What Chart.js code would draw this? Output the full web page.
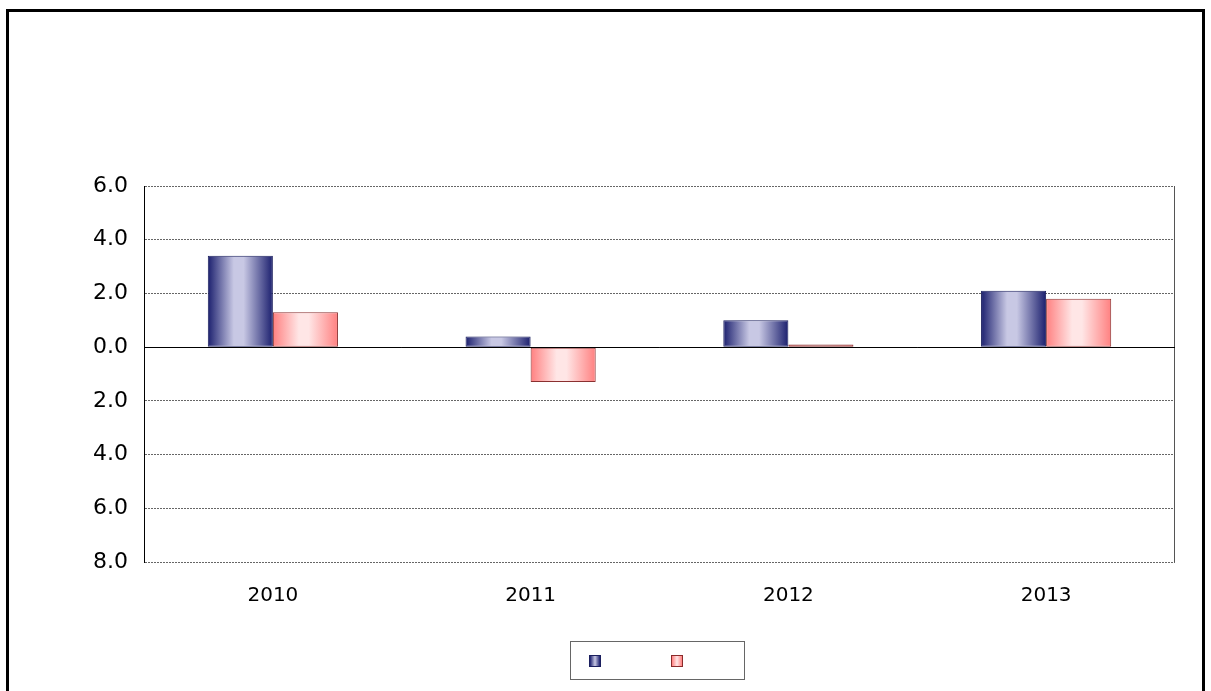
<!DOCTYPE html>
<html>
<head>
<meta charset="utf-8">
<script src="https://cdn.jsdelivr.net/npm/chart.js@4/dist/chart.umd.min.js"></script>
<style>
  html, body { margin: 0; padding: 0; background: #fff; }
  #wrap { position: relative; width: 1211px; height: 691px; overflow: hidden; }
  #frame { position: absolute; left: 6px; top: 9px; width: 1199px; height: 700px;
           border: 3px solid #000; border-bottom: none; box-sizing: border-box; }
  #chart { position: absolute; left: 0; top: 0; }
  #legend { position: absolute; left: 570px; top: 641px; width: 175px; height: 39px;
            border: 1px solid #666; box-sizing: border-box; }
  .sw { position: absolute; top: 13px; width: 12px; height: 12px; box-sizing: border-box; }
  #sw1 { left: 18px; border: 1px solid #1b1f5e;
         background: linear-gradient(to right, #1b1f6e, #c8c8e4 50%, #1b1f6e); }
  #sw2 { left: 100px; border: 1px solid #8a2b2b;
         background: linear-gradient(to right, #ff8080, #ffe6e6 50%, #ff8080); }
</style>
</head>
<body>
<div id="wrap">
  <div id="frame"></div>
  <canvas id="chart" width="1211" height="691"></canvas>
  <div id="legend"><div class="sw" id="sw1"></div><div class="sw" id="sw2"></div></div>
</div>
<script>
// data
var years = ['2010', '2011', '2012', '2013'];
var seriesA = [3.4, 0.4, 1.0, 2.1];
var seriesB = [1.3, -1.3, 0.1, 1.8];
var yTicks = [6, 4, 2, 0, -2, -4, -6, -8];
var yTickLabels = ['6.0', '4.0', '2.0', '0.0', '2.0', '4.0', '6.0', '8.0'];

var catPct = 0.505;

function barGradient(ctx, dark, light, side) {
  var chart = ctx.chart;
  var x = chart.scales.x;
  if (!chart.chartArea || !x || ctx.dataIndex === undefined) return light;
  var c = x.getPixelForValue(ctx.dataIndex);
  var w = x.width / years.length * catPct / 2;
  var left = side === 0 ? c - w : c;
  var right = side === 0 ? c : c + w;
  var g = chart.ctx.createLinearGradient(left, 0, right, 0);
  g.addColorStop(0, dark);
  g.addColorStop(0.4, light);
  g.addColorStop(0.55, light);
  g.addColorStop(1, dark);
  return g;
}

// right edge of the plot area and the zero line
var plotLines = {
  id: 'plotLines',
  afterDatasetsDraw: function(chart) {
    var a = chart.chartArea, c = chart.ctx;
    var y0 = chart.scales.y.getPixelForValue(0);
    c.save();
    c.lineWidth = 1;
    c.strokeStyle = '#555';
    c.beginPath();
    c.moveTo(a.right - 0.5, a.top);
    c.lineTo(a.right - 0.5, a.bottom);
    c.stroke();
    c.strokeStyle = '#000';
    c.beginPath();
    c.moveTo(a.left, Math.round(y0) + 0.5);
    c.lineTo(a.right, Math.round(y0) + 0.5);
    c.stroke();
    c.restore();
  }
};

new Chart(document.getElementById('chart'), {
  type: 'bar',
  data: {
    labels: years,
    datasets: [
      {
        data: seriesA,
        backgroundColor: function(ctx) { return barGradient(ctx, '#1b1f6e', '#c8c8e4', 0); },
        borderColor: '#1b1f5e',
        borderWidth: 1,
        borderSkipped: false
      },
      {
        data: seriesB,
        backgroundColor: function(ctx) { return barGradient(ctx, '#ff8080', '#ffe6e6', 1); },
        borderColor: '#8a3030',
        borderWidth: 1,
        borderSkipped: false
      }
    ]
  },
  options: {
    responsive: false,
    animation: false,
    layout: { padding: { left: 0, top: 186, right: 36, bottom: 89 } },
    plugins: { legend: { display: false }, tooltip: { enabled: false } },
    datasets: { bar: { categoryPercentage: catPct, barPercentage: 1 } },
    scales: {
      x: {
        grid: { display: false },
        border: { display: false },
        ticks: { color: '#000', padding: 14, maxRotation: 0,
                 font: { family: 'DejaVu Sans', size: 20 } },
        afterFit: function(s) { s.height = 40; }
      },
      y: {
        min: -8,
        max: 6,
        afterBuildTicks: function(s) {
          s.ticks = yTicks.map(function(v) { return { value: v }; });
        },
        grid: { color: '#666', lineWidth: 1, drawTicks: false },
        border: { display: true, color: '#000', width: 1, dash: [2, 1] },
        ticks: {
          color: '#000', padding: 16,
          font: { family: 'DejaVu Sans', size: 22 },
          callback: function(v) { return yTickLabels[yTicks.indexOf(v)]; }
        },
        afterFit: function(s) { s.width = 144; }
      }
    }
  },
  plugins: [plotLines]
});
</script>
</body>
</html>
